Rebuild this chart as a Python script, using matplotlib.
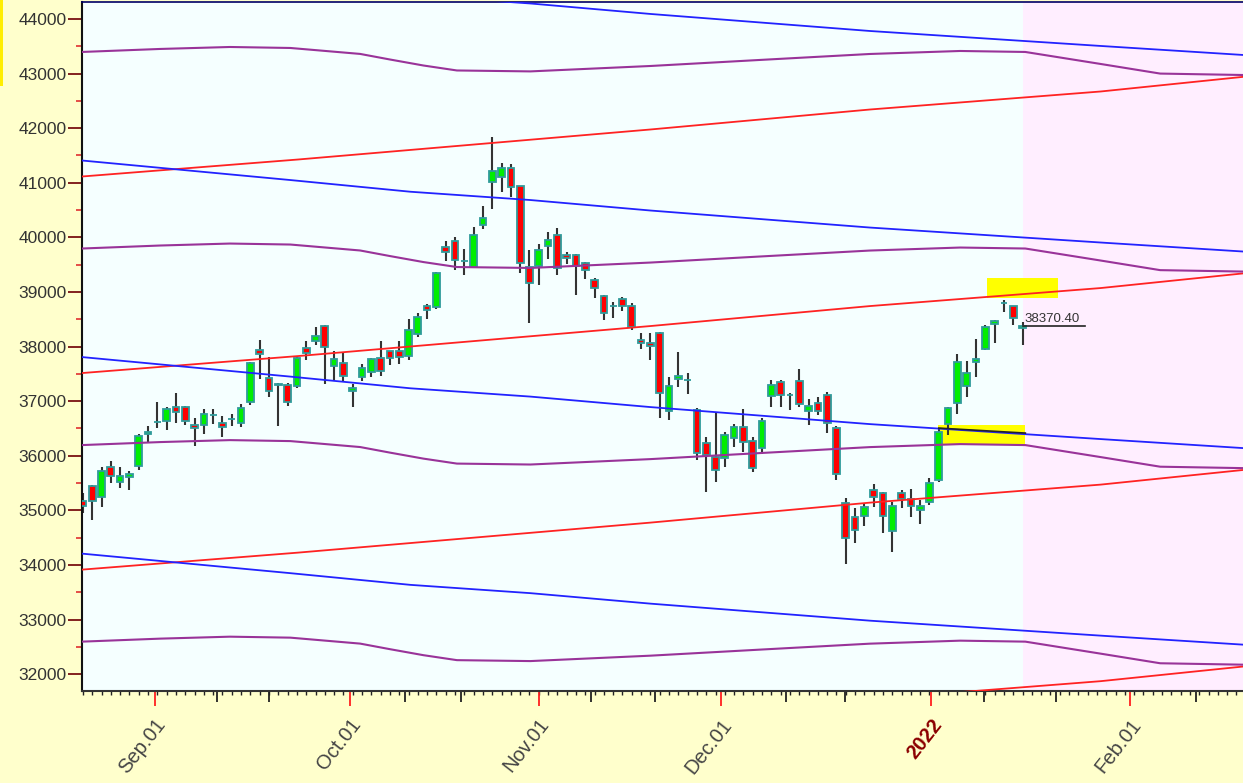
import matplotlib

matplotlib.use("Agg")
import matplotlib.pyplot as plt
from matplotlib.patches import Rectangle
from matplotlib.ticker import MultipleLocator
from matplotlib.transforms import blended_transform_factory, offset_copy

plt.rcParams["font.family"] = ["Liberation Sans", "DejaVu Sans"]

# daily candles, one per trading day (index 0 = first candle on the left)
opens = [35170, 35445, 35243, 35793, 35518, 35610, 35810, 36400, 36610, 36636,
         36892, 36892, 36562, 36562, 36740, 36599, 36665, 36599, 36983, 37936,
         37423, 37310, 37295, 37277, 37973, 38101, 38376, 37643, 37698, 37185,
         37442, 37533, 37790, 37918, 37918, 37826, 38229, 38742, 38724, 39823,
         39933, 39560, 39457, 40226, 41014, 41105, 41270, 40940, 39457, 39475,
         39841, 40043, 39676, 39676, 39530, 39218, 38925, 38745, 38870, 38742,
         38120, 38064, 38248, 36818, 37405, 37390, 36837, 36232, 35976, 35958,
         36324, 36526, 36269, 36141, 37093, 37350, 37115, 37368, 36818, 36965,
         37112, 36507, 35133, 34877, 34895, 35371, 35316, 34620, 35316, 35206,
         35005, 35151, 35560, 36580, 36965, 37277, 37716, 37954, 38412, 38800,
         38742, 38339]
highs = [35316, 35460, 35793, 35903, 35793, 35720, 36397, 36544, 36983, 36892,
         37148, 36910, 36690, 36855, 36855, 36727, 36764, 36947, 37716, 38119,
         37808, 37332, 37332, 37808, 38101, 38357, 38390, 37918, 37881, 37313,
         37680, 37790, 38101, 37918, 38101, 38504, 38614, 38779, 39365, 39933,
         40006, 39786, 40189, 40574, 41838, 41362, 41344, 40950, 39768, 39878,
         40098, 40171, 39732, 39690, 39545, 39255, 38940, 38815, 38900, 38800,
         38250, 38248, 38260, 37442, 37900, 37515, 36873, 36342, 36782, 36434,
         36580, 36855, 36342, 36690, 37387, 37387, 37148, 37588, 37038, 37075,
         37167, 36544, 35225, 35042, 35133, 35481, 35335, 35151, 35371, 35390,
         35188, 35591, 36507, 36892, 37863, 37735, 38138, 38394, 38486, 38852,
         38742, 38449]
lows = [34950, 34822, 35060, 35500, 35408, 35371, 35737, 36232, 36507, 36470,
        36599, 36562, 36177, 36397, 36580, 36342, 36544, 36526, 36929, 37405,
        37075, 36544, 36910, 37240, 37753, 38028, 37313, 37386, 37368, 36892,
        37368, 37442, 37460, 37661, 37680, 37753, 38174, 38504, 38687, 39567,
        39402, 39310, 39457, 40153, 40519, 40831, 40739, 39347, 38431, 39127,
        39603, 39310, 39512, 38944, 39237, 38889, 38486, 38520, 38650, 38300,
        37950, 37753, 36690, 36654, 37258, 37130, 35921, 35334, 35518, 35793,
        36159, 36067, 35701, 36031, 36892, 36892, 36837, 36892, 36562, 36745,
        36416, 35555, 34016, 34400, 34712, 35060, 34584, 34236, 35042, 34877,
        34749, 35097, 35518, 36379, 36764, 37075, 37442, 37936, 38064, 38632,
        38394, 38028]
closes = [35080, 35170, 35719, 35628, 35628, 35664, 36360, 36430, 36625, 36855,
          36800, 36636, 36507, 36764, 36752, 36526, 36675, 36873, 37698, 37863,
          37185, 37300, 36983, 37790, 37881, 38193, 37991, 37771, 37460, 37240,
          37606, 37771, 37551, 37790, 37808, 38303, 38541, 38669, 39347, 39732,
          39585, 39575, 40043, 40354, 41215, 41270, 40922, 39530, 39164, 39768,
          39951, 39438, 39621, 39475, 39402, 39072, 38614, 38740, 38742, 38357,
          38060, 38010, 37148, 37277, 37460, 37385, 36049, 36012, 35737, 36379,
          36526, 36251, 35774, 36636, 37295, 37112, 37110, 36947, 36910, 36818,
          36599, 35664, 34492, 34639, 35060, 35243, 34895, 35078, 35206, 35078,
          35078, 35500, 36434, 36873, 37716, 37515, 37771, 38357, 38467, 38800,
          38522, 38370.40]
last_close_text = "38370.40"

# channel lines: anchor points (candle index, value) of the middle line
red_idx = [-0.1, 23.1, 61.0, 84.6, 109.4, 124.7]
red_mid = [37515, 37826, 38376, 38742, 39072, 39340]
blue_idx = [-0.1, 22.3, 35.2, 48.1, 61.0, 84.6, 109.4, 124.7]
blue_mid = [37808, 37450, 37236, 37084, 36892, 36580, 36306, 36141]
purple_idx = [-0.1, 8.3, 15.8, 22.3, 29.8, 33.0, 36.6, 40.2, 48.1, 61.0,
              72.8, 84.6, 94.3, 101.3, 109.4, 115.8, 124.7]
purple_low = [36196, 36251, 36287, 36269, 36160, 36058, 35948, 35857, 35840,
              35939, 36050, 36159, 36214, 36196, 35976, 35800, 35774]
channel_step = 3600
red_offsets = [1, 0, -1, -2]
blue_offsets = [2, 1, 0, -1]
purple_offsets = [2, 1, 0, -1]

# highlighted zones (index range, value range)
zones = [((97.2, 104.8), (38889, 39255)), ((91.9, 101.3), (36196, 36562))]
zone_line = ((92.0, 101.3), (36507, 36416))

# x axis ticks (candle index positions)
month_labels = ["Sep.01", "Oct.01", "Nov.01", "Dec.01", "2022", "Feb.01"]
month_pos = [7.7, 28.7, 49.0, 68.6, 91.2, 112.6]
mid_pos = [14.4, 20.0, 34.6, 40.6, 54.6, 61.5, 75.6, 81.9, 96.9, 104.6, 119.6]

n = len(closes)
xs = list(range(n))
x_left, x_right = -0.1, 124.7
y_low, y_high = 31692, 44311

fig = plt.figure(figsize=(12.43, 7.83), dpi=100, facecolor="#FFFFCC")
ax = fig.add_axes([82 / 1243, 1 - 691 / 783, 1 - 82 / 1243, 689 / 783])
ax.set_facecolor("#F5FFFF")
ax.set_xlim(x_left, x_right)
ax.set_ylim(y_low, y_high)

# future area
ax.axvspan(n - 1, x_right, color="#FFEEFF", zorder=0, lw=0)

for (xa, xb), (ya, yb) in zones:
    ax.add_patch(Rectangle((xa, ya), xb - xa, yb - ya, color="#FFFF00", lw=0, zorder=1))

# candles
ax.vlines(xs, lows, highs, color="#333333", lw=1.5, zorder=2)
fills = ["#00EE00" if c >= o else "#FF0000" for o, c in zip(opens, closes)]
ax.bar(xs, [c - o for o, c in zip(opens, closes)], bottom=opens, width=0.72,
       color=fills, edgecolor="#2F9B9B", linewidth=1.3, zorder=3)

# channel lines
for k in red_offsets:
    ax.plot(red_idx, [v + k * channel_step for v in red_mid], color="#FF2222", lw=1.3, zorder=4)
for k in blue_offsets:
    ax.plot(blue_idx, [v + k * channel_step for v in blue_mid], color="#2222FF", lw=1.3, zorder=4)
for k in purple_offsets:
    ax.plot(purple_idx, [v + k * channel_step for v in purple_low], color="#993399", lw=1.5, zorder=4)

ax.plot(zone_line[0], zone_line[1], color="#222222", lw=1.2, zorder=5)

# last price marker
ax.plot([n - 1, n - 1 + 6.7], [closes[-1], closes[-1]], color="#222222", lw=1.2, zorder=5)
ax.text(n - 1 + 0.2, closes[-1] + 75, last_close_text, fontsize=9.5, color="#333333",
        ha="left", va="baseline", zorder=6)

# y axis
ax.yaxis.set_major_locator(MultipleLocator(1000))
ax.yaxis.set_minor_locator(MultipleLocator(500))
ax.tick_params(axis="y", which="major", length=10, width=1.3, color="#7A1010",
               labelsize=12.5, labelcolor="#333333", pad=1)
ax.tick_params(axis="y", which="minor", length=4, width=1.2, color="#E03030")
ax.set_yticks(range(32000, 44001, 1000))

# x axis ticks drawn by hand (three lengths)
ax.tick_params(axis="x", which="both", length=0, labelbottom=False)
bt = blended_transform_factory(ax.transData, ax.transAxes)
ax_h = 689
minor_pos = [i for i in range(int(x_right) + 1)]
ax.vlines(minor_pos, 0, -4 / ax_h, transform=bt, color="#222222", lw=1, clip_on=False)
ax.vlines(mid_pos, 0, -11 / ax_h, transform=bt, color="#222222", lw=1.3, clip_on=False)
ax.vlines(month_pos, 0, -15 / ax_h, transform=bt, color="#FF2020", lw=1.3, clip_on=False)

lab_tr = offset_copy(bt, fig=fig, x=7, y=-30, units="dots")
for pos, lab in zip(month_pos, month_labels):
    is_year = lab.isdigit()
    ax.text(pos, 0, lab, transform=lab_tr, rotation=52, rotation_mode="anchor",
            ha="right", va="center", fontsize=14.5,
            color="#8B0000" if is_year else "#444444",
            fontweight="bold" if is_year else "normal", clip_on=False)

ax.spines["right"].set_visible(False)
ax.spines["left"].set_color("#111111")
ax.spines["left"].set_linewidth(1.5)
ax.spines["bottom"].set_color("#333333")
ax.spines["bottom"].set_linewidth(1.5)
ax.spines["top"].set_color("#000066")
ax.spines["top"].set_linewidth(1.2)

# small yellow marker strip at the far left
fig.patches.append(Rectangle((0, 1 - 86 / 783), 3 / 1243, 86 / 783, transform=fig.transFigure,
                             color="#FFEE00", lw=0))

fig.savefig("out.png", dpi=100, facecolor=fig.get_facecolor())
